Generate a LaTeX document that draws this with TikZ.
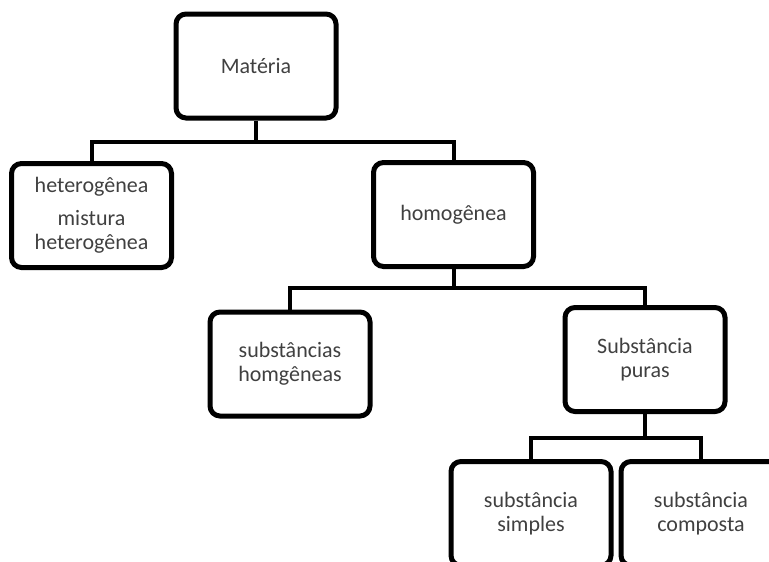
\documentclass[tikz,border=0pt]{standalone}
\usepackage{fontspec}
\setmainfont{Carlito}
\definecolor{labelgray}{HTML}{404040}
\begin{document}
\begin{tikzpicture}[x=1pt,y=-1pt,
  box/.style={draw=black, line width=5pt, rounded corners=10pt,
    minimum width=160pt, minimum height=104pt, align=center,
    font=\fontsize{22}{24}\selectfont, text=labelgray, inner sep=0pt},
  link/.style={line width=4pt, line join=miter}]
\useasboundingbox (0,0) rectangle (769,562);
\clip (0,0) rectangle (769,562);

% boxes
\node[box] (mat) at (256,66) {Matéria};
\node[box] (het) at (91.5,215.5) {heterogênea\\[9pt]mistura\\heterogênea};
\node[box] (hom) at (453.5,214.5) {homogênea};
\node[box] (shom) at (290,364) {substâncias\\homgêneas};
\node[box] (pur) at (645,359.5) {Substância\\puras};
\node[box] (simp) at (531,513.5) {substância\\simples};
\node[box] (comp) at (701,513.5) {substância\\composta};

% branching points
\coordinate (j1) at (256,142);
\coordinate (j2) at (453.5,288);
\coordinate (j3) at (645,438);

% connectors
\draw[link] (mat.south) -- (j1);
\draw[link] (het.north) |- (j1) -| (hom.north);
\draw[link] (hom.south) -- (j2);
\draw[link] (shom.north) |- (j2) -| (pur.north);
\draw[link] (pur.south) -- (j3);
\draw[link] (simp.north) |- (j3) -| (comp.north);
\end{tikzpicture}
\end{document}
